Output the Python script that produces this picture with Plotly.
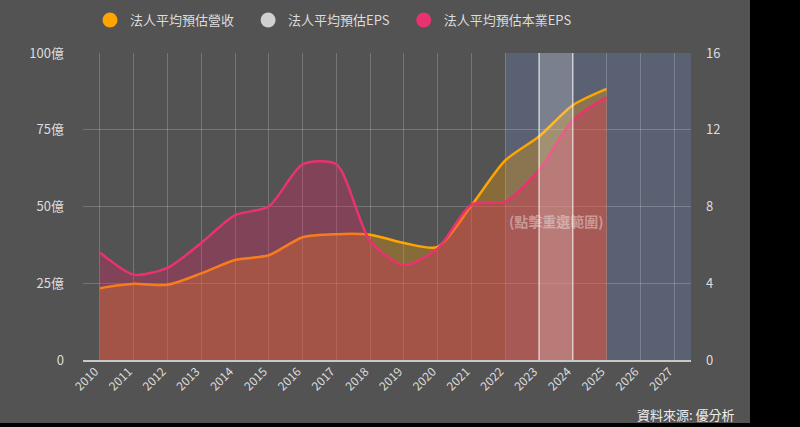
import plotly.graph_objects as go

years = list(range(2010, 2026))
all_years = list(range(2010, 2028))
revenue = [23.4, 24.8, 24.5, 28.2, 32.6, 34.1, 40.0, 41.0, 40.8, 38.1, 36.8, 50.3, 65.0, 72.8, 83.0, 88.3]
eps = [None] * len(years)
core_eps = [5.6, 4.45, 4.8, 6.1, 7.55, 8.0, 10.2, 10.2, 6.2, 4.95, 5.8, 8.1, 8.25, 9.9, 12.5, 13.7]
left_ticks = [0, 25, 50, 75, 100]
left_labels = ["0", "25億", "50億", "75億", "100億"]
right_ticks = [0, 4, 8, 12, 16]
names = ["法人平均預估營收", "法人平均預估EPS", "法人平均預估本業EPS"]
colors = ["#ffa500", "#d0d0d0", "#e8336f"]

W, H = 800, 427
L, R, T, B = 83, 109, 53, 67
pw, ph = W - L - R, H - T - B
FONT = "Noto Sans CJK TC"
TXT = "#dcdcdc"
SM = 0.7
PAD = "\u2002\u2009"  # spacing after a legend entry

fig = go.Figure()
fig.add_trace(go.Scatter(x=years, y=revenue, mode="lines",
                         line=dict(color=colors[0], width=2.5, shape="spline", smoothing=SM),
                         fill="tozeroy", fillcolor="rgba(255,165,0,0.3)", showlegend=False, yaxis="y"))
fig.add_trace(go.Scatter(x=years, y=eps, mode="lines",
                         line=dict(color=colors[1], width=2.5, shape="spline", smoothing=SM),
                         showlegend=False, yaxis="y2"))
fig.add_trace(go.Scatter(x=years, y=core_eps, mode="lines",
                         line=dict(color=colors[2], width=2.5, shape="spline", smoothing=SM),
                         fill="tozeroy", fillcolor="rgba(233,30,99,0.3)", showlegend=False, yaxis="y2"))
for i, (n, c) in enumerate(zip(names, colors)):
    label = n + (PAD if i < len(names) - 1 else "")
    fig.add_trace(go.Scatter(x=[None], y=[None], mode="markers", name=label,
                             marker=dict(color=c, size=15, symbol="circle"), showlegend=True))

def px_x(p):
    return (p - L) / pw

def px_y(p):
    return (H - B - p) / ph

shapes = [
    dict(type="rect", xref="x", yref="paper", x0=2022, x1=2027.5, y0=0, y1=1,
         fillcolor="rgba(110,140,210,0.25)", line_width=0, layer="below"),
    dict(type="rect", xref="x", yref="paper", x0=2023, x1=2024, y0=0, y1=1,
         fillcolor="rgba(255,255,255,0.2)", line_width=0, layer="above"),
    dict(type="line", xref="x", yref="paper", x0=2023, x1=2023, y0=0, y1=1,
         line=dict(color="rgba(255,255,255,0.6)", width=1.5), layer="above"),
    dict(type="line", xref="x", yref="paper", x0=2024, x1=2024, y0=0, y1=1,
         line=dict(color="rgba(255,255,255,0.6)", width=1.5), layer="above"),
    dict(type="rect", xref="paper", yref="paper", x0=px_x(750), x1=px_x(800), y0=px_y(427), y1=px_y(0),
         fillcolor="black", line_width=0, layer="above"),
    dict(type="rect", xref="paper", yref="paper", x0=px_x(0), x1=px_x(800), y0=px_y(427), y1=px_y(423),
         fillcolor="black", line_width=0, layer="above"),
]

fig.update_layout(
    width=W, height=H, margin=dict(l=L, r=R, t=T, b=B, autoexpand=False),
    paper_bgcolor="#535353", plot_bgcolor="#535353",
    font=dict(family=FONT, color=TXT, size=13),
    shapes=shapes,
    showlegend=True,
    legend=dict(orientation="h", x=90 / W, xref="container", xanchor="left",
                y=1 - 20 / H, yanchor="middle", yref="container",
                font=dict(size=13, color=TXT), bgcolor="rgba(0,0,0,0)", itemclick=False),
    xaxis=dict(range=[2009.5, 2027.5], tickmode="array", tickvals=all_years, ticktext=[str(y) for y in all_years],
               tickangle=-45, showgrid=True, gridcolor="rgba(255,255,255,0.2)", gridwidth=1,
               showline=True, linecolor="#c8c8c8", linewidth=2, zeroline=False, ticks="",
               ticklabelshift=-5, ticklabelstandoff=-2,
               tickfont=dict(size=12, color=TXT)),
    yaxis=dict(range=[0, 100], tickmode="array", tickvals=left_ticks, ticktext=left_labels,
               showgrid=True, gridcolor="rgba(255,255,255,0.2)", gridwidth=1, zeroline=False,
               ticks="", ticklabelstandoff=18,
               tickfont=dict(size=13, color=TXT)),
    yaxis2=dict(range=[0, 16], tickmode="array", tickvals=right_ticks, overlaying="y", side="right",
                showgrid=False, zeroline=False, tickfont=dict(size=13, color=TXT), ticklabelstandoff=14),
    annotations=[
        dict(x=2023.53, y=45.3, xref="x", yref="y", text="<b>(點擊重選範圍)</b>", showarrow=False,
             font=dict(size=14, color="rgba(255,255,255,0.4)")),
        dict(x=px_x(737), y=px_y(414), xref="paper", yref="paper", text="資料來源: 優分析", showarrow=False,
             xanchor="right", yanchor="middle", font=dict(size=13, color="#eeeeee")),
    ],
)

fig.write_html("out.html")
